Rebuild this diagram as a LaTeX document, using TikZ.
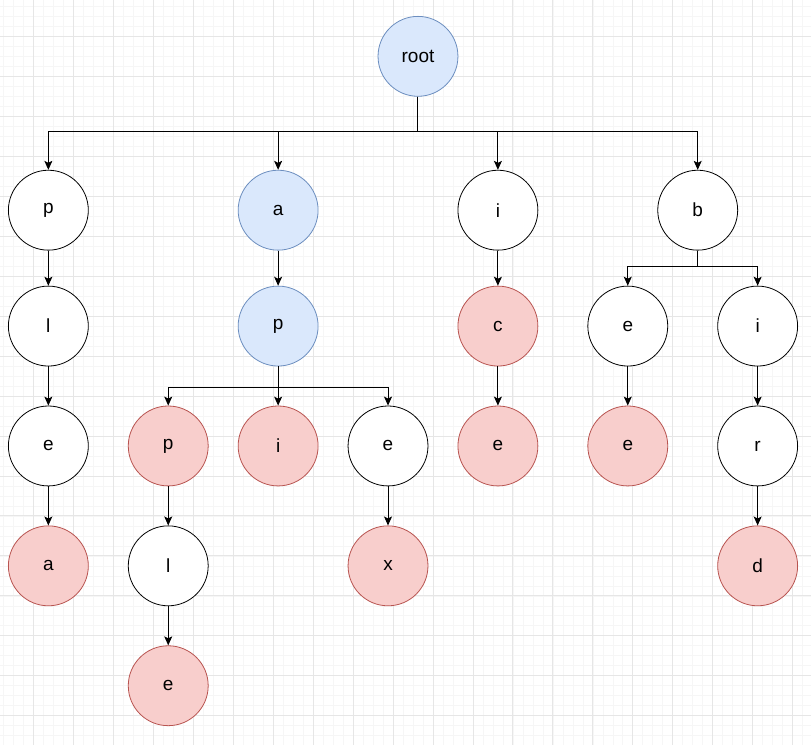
\documentclass[tikz,border=0pt]{standalone}
\usepackage{fontspec}
\setmainfont{Liberation Sans}
\usetikzlibrary{arrows.meta, positioning}
\definecolor{bluefill}{HTML}{DAE8FC}
\definecolor{bluedraw}{HTML}{6C8EBF}
\definecolor{redfill}{HTML}{F8CECC}
\definecolor{reddraw}{HTML}{B85450}
\definecolor{gridminor}{HTML}{F6F6F6}
\definecolor{gridmajor}{HTML}{E6E6E6}

\begin{document}
\begin{tikzpicture}[x=1pt, y=-1pt,
    knot/.style={circle, draw, line width=0.8pt, fill=white, minimum size=80pt, inner sep=0pt, font=\fontsize{19}{23}\selectfont},
    onpath/.style={knot, fill=bluefill, draw=bluedraw},
    found/.style={knot, fill=redfill, draw=reddraw},
    link/.style={line width=1pt, -{Stealth[length=9pt, width=8pt, inset=2pt]}}]
  % Raster
  \fill[white] (0,0) rectangle (811,745);
  \foreach \x in {3,13,...,811} \draw[gridminor, line width=0.6pt] (\x,0) -- (\x,745);
  \foreach \y in {6,16,...,745} \draw[gridminor, line width=0.6pt] (0,\y) -- (811,\y);
  \foreach \x in {33,73,...,811} \draw[gridmajor, line width=0.8pt] (\x,0) -- (\x,745);
  \foreach \y in {36,76,...,745} \draw[gridmajor, line width=0.8pt] (0,\y) -- (811,\y);
  \useasboundingbox (0,0) rectangle (811,745);
  % Knoten
  \node[onpath] (root) at (418,56) {root};
  \node[knot] (p1) at (48,210) {p};
  \node[knot] (l1) at (48,326) {l};
  \node[knot] (e1) at (48,446) {e};
  \node[found] (a1) at (48,566) {a};
  \node[onpath] (a2) at (278,210) {a};
  \node[onpath] (p2) at (278,326) {p};
  \node[found] (p3) at (168,446) {p};
  \node[knot] (l3) at (168,566) {l};
  \node[found] (e3) at (168,686) {e};
  \node[found] (i2) at (278,446) {i};
  \node[knot] (e2) at (388,446) {e};
  \node[found] (x2) at (388,566) {x};
  \node[knot] (i4) at (498,210) {i};
  \node[found] (c4) at (498,326) {c};
  \node[found] (e4) at (498,446) {e};
  \node[knot] (b5) at (698,210) {b};
  \node[knot] (e5) at (628,326) {e};
  \node[found] (e6) at (628,446) {e};
  \node[knot] (i5) at (758,326) {i};
  \node[knot] (r5) at (758,446) {r};
  \node[found] (d5) at (758,566) {d};
  % Kanten
  \foreach \c in {p1,a2,i4,b5}
    \draw[link] (root.south) -- ++(0,35) -| (\c.north);
  \foreach \c in {p3,i2,e2}
    \draw[link] (p2.south) -- ++(0,21) -| (\c.north);
  \foreach \c in {e5,i5}
    \draw[link] (b5.south) -- ++(0,16) -| (\c.north);
  \draw[link] (p1) -- (l1);
  \draw[link] (l1) -- (e1);
  \draw[link] (e1) -- (a1);
  \draw[link] (a2) -- (p2);
  \draw[link] (p3) -- (l3);
  \draw[link] (l3) -- (e3);
  \draw[link] (e2) -- (x2);
  \draw[link] (i4) -- (c4);
  \draw[link] (c4) -- (e4);
  \draw[link] (e5) -- (e6);
  \draw[link] (i5) -- (r5);
  \draw[link] (r5) -- (d5);
\end{tikzpicture}
\end{document}
